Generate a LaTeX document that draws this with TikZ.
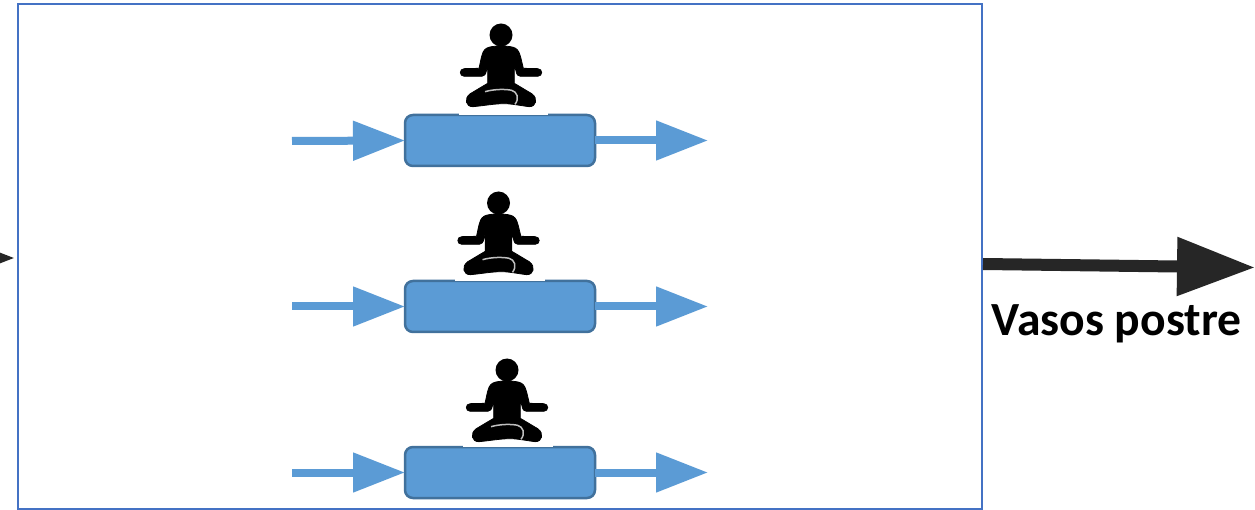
\documentclass[tikz,border=0pt]{standalone}
\usepackage{fontspec}
\setmainfont{Carlito}
\usetikzlibrary{arrows.meta}
\definecolor{frameblue}{HTML}{4472C4}
\definecolor{flowblue}{HTML}{5B9BD5}
\definecolor{edgeblue}{HTML}{41719C}
\definecolor{darkarrow}{HTML}{262626}
\tikzset{
  x=1pt,y=-1pt,
  framebox/.style={draw=frameblue,line width=2.5pt,minimum width=964pt,minimum height=505pt,outer sep=0pt,inner sep=0pt},
  pipebox/.style={draw=edgeblue,fill=flowblue,line width=2.5pt,rounded corners=8pt,minimum width=190pt,minimum height=51pt,outer sep=0pt,inner sep=0pt},
  flowin/.style={flowblue,line width=8pt,-{Triangle[length=52pt,width=38pt]}},
  flowout/.style={flowblue,line width=8pt,-{Triangle[length=52pt,width=38pt]}},
  bigflow/.style={darkarrow,line width=12pt,-{Triangle[length=78pt,width=56pt]}},
  meditator/.pic={
    \fill[black] (0,0) circle (11.5);
    \filldraw[black,line width=0.8pt,line join=round,scale=0.3333]
      (-28,35) .. controls (-40,37) and (-48,40) .. (-54,52)
      .. controls (-60,66) and (-62,85) .. (-66,100)
      -- (-110,101) .. controls (-126,101) and (-126,124) .. (-110,124)
      -- (-58,124) .. controls (-50,124) and (-46,118) .. (-44,108)
      -- (-40,92) -- (-40,145)
      -- (-92,176) .. controls (-112,190) and (-106,216) .. (-84,215)
      .. controls (-50,212) and (-20,206) .. (10,206)
      .. controls (30,206) and (60,212) .. (84,215)
      .. controls (106,216) and (112,190) .. (92,176)
      -- (40,145) -- (40,92)
      -- (45,108) .. controls (47,118) and (50,124) .. (58,124)
      -- (110,124) .. controls (126,124) and (126,101) .. (110,101)
      -- (67,100) .. controls (63,85) and (60,66) .. (54,52)
      .. controls (48,40) and (40,37) .. (28,35)
      .. controls (10,32) and (-10,32) .. (-28,35) -- cycle;
    \draw[white!75!black,line width=1.5pt,scale=0.3333]
      (-48,170) .. controls (-20,162) and (15,162) .. (32,166)
      .. controls (48,170) and (56,190) .. (42,208);
  }
}
\begin{document}
\begin{tikzpicture}
\useasboundingbox (0,0) rectangle (1255,510);
\clip (0,0) rectangle (1255,510);
\fill[white] (0,0) rectangle (1255,510);
\node[framebox] (frame) at (500,256.5) {};
\node[pipebox] (boxa) at (500,140.5) {};
\node[pipebox] (boxb) at (500,306.5) {};
\node[pipebox] (boxc) at (500,472.5) {};
\coordinate (ina) at (292,141);
\coordinate (inb) at (292,306.5);
\coordinate (inc) at (292,472.5);
\coordinate (outa) at (708,140.5);
\coordinate (outb) at (708,306.5);
\coordinate (outc) at (708,472.5);
\draw[flowin] (ina) -- (boxa.west);
\draw[flowin] (inb) -- (boxb.west);
\draw[flowin] (inc) -- (boxc.west);
\draw[flowout] (boxa.east) -- (outa);
\draw[flowout] (boxb.east) -- (outb);
\draw[flowout] (boxc.east) -- (outc);
\fill[white] (459,111) rectangle (548,115);
\fill[white] (455,277) rectangle (545,281);
\fill[white] (463,443) rectangle (553,447);
\pic at (501,35) {meditator};
\pic at (498.5,203) {meditator};
\pic at (507,370) {meditator};
\coordinate (leftstart) at (-100,258);
\coordinate (lefttip) at (15,258);
\draw[bigflow] (leftstart) -- (lefttip);
\coordinate (outstart) at (983,264);
\coordinate (outtip) at (1255,267.5);
\draw[bigflow] (outstart) -- (outtip);
\node[font=\bfseries\fontsize{47.6}{47.6}\selectfont,inner sep=0pt,text=black,anchor=base] (label) at (1116.5,336) {Vasos postre};
\end{tikzpicture}
\end{document}
